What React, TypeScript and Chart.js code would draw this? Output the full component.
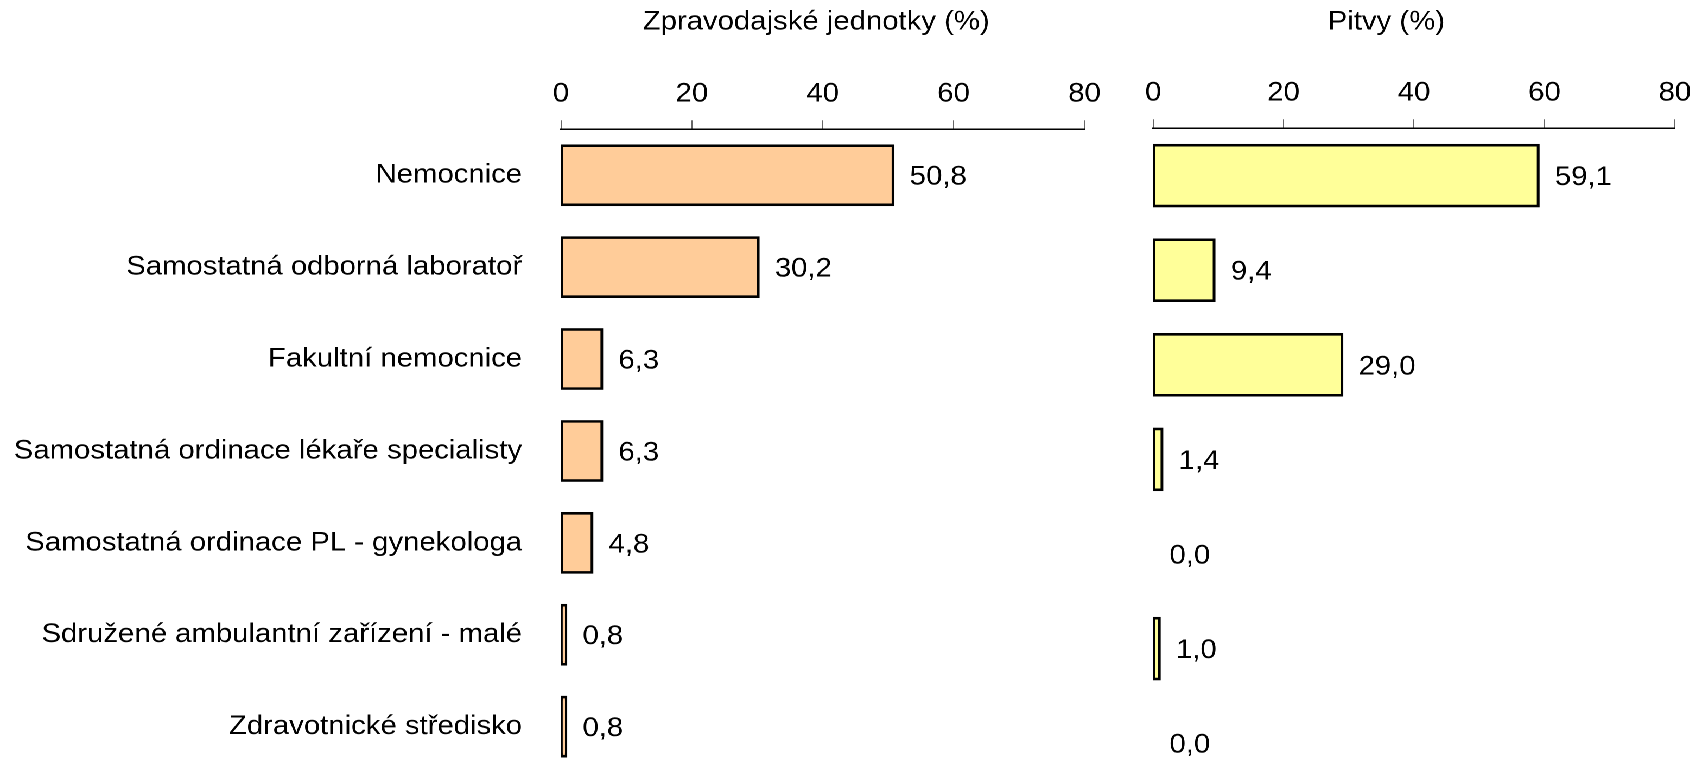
import React, { useEffect, useRef } from 'react';
import { Chart, registerables } from 'chart.js';

Chart.register(...registerables);

// ---------- data ----------
const categories = [
  'Nemocnice',
  'Samostatná odborná laboratoř',
  'Fakultní nemocnice',
  'Samostatná ordinace lékaře specialisty',
  'Samostatná ordinace PL - gynekologa',
  'Sdružené ambulantní zařízení - malé',
  'Zdravotnické středisko',
];
const zpravodajskeJednotky = [50.8, 30.2, 6.3, 6.3, 4.8, 0.8, 0.8];
const pitvy = [59.1, 9.4, 29.0, 1.4, 0.0, 1.0, 0.0];
const axisMin = 0;
const axisMax = 80;
const axisStep = 20;
const leftTitle = 'Zpravodajské jednotky (%)';
const rightTitle = 'Pitvy (%)';

// ---------- style / layout ----------
const FONT = "'Liberation Sans', Arial, Helvetica, sans-serif";
const FS = 27;
const SX = 1702 / 1568; // horizontal stretch of the reference

const fmt = (v: number) => v.toFixed(1).replace('.', ',');

const panelTitlePlugin = {
  id: 'panelTitle',
  afterDraw(chart: any, _args: any, opts: any) {
    const { ctx, chartArea } = chart;
    ctx.save();
    ctx.font = `${FS}px ${FONT}`;
    ctx.fillStyle = '#000';
    ctx.textAlign = 'center';
    ctx.textBaseline = 'alphabetic';
    ctx.fillText(opts.text, (chartArea.left + chartArea.right) / 2 + opts.offsetX, opts.y);
    ctx.restore();
  },
};

const valueLabelPlugin = {
  id: 'valueLabels',
  afterDatasetsDraw(chart: any) {
    const { ctx } = chart;
    const meta = chart.getDatasetMeta(0);
    const data = chart.data.datasets[0].data as number[];
    ctx.save();
    ctx.font = `${FS}px ${FONT}`;
    ctx.fillStyle = '#000';
    ctx.textAlign = 'left';
    ctx.textBaseline = 'middle';
    meta.data.forEach((el: any, i: number) => {
      ctx.fillText(fmt(data[i]), el.x + 15, el.y + 2);
    });
    ctx.restore();
  },
};

function makeConfig(
  values: number[],
  color: string,
  title: string,
  titleOffsetX: number,
  showLabels: boolean,
  yAxisWidth: number,
  xAxisHeight: number,
  padding: { left: number; right: number; top: number; bottom: number }
): any {
  return {
    type: 'bar',
    data: {
      labels: categories,
      datasets: [
        {
          data: values,
          backgroundColor: (c: any) => (c.raw === 0 ? 'rgba(0,0,0,0)' : color),
          borderColor: '#000',
          borderWidth: 2.6,
          borderSkipped: false,
          inflateAmount: (c: any) => (c.raw === 0 ? 0 : 1),
          categoryPercentage: 0.65,
          barPercentage: 1,
        },
      ],
    },
    options: {
      indexAxis: 'y',
      responsive: false,
      animation: false,
      devicePixelRatio: 2,
      events: [],
      layout: { padding },
      plugins: {
        legend: { display: false },
        tooltip: { enabled: false },
        title: { display: false },
        panelTitle: { text: title, offsetX: titleOffsetX, y: 29.5 },
      },
      scales: {
        x: {
          type: 'linear',
          position: 'top',
          min: axisMin,
          max: axisMax,
          ticks: {
            stepSize: axisStep,
            color: '#000',
            font: { size: FS, family: FONT },
            padding: 10,
            maxRotation: 0,
          },
          grid: {
            drawOnChartArea: false,
            drawTicks: true,
            tickLength: 9,
            color: '#666',
            lineWidth: 1,
          },
          border: { display: true, color: '#000', width: 1.5 },
          afterFit: (s: any) => {
            s.height = xAxisHeight;
          },
        },
        y: {
          type: 'category',
          display: showLabels,
          offset: true,
          grid: { display: false, drawTicks: false },
          border: { display: false },
          ticks: {
            color: '#000',
            font: { size: FS, family: FONT },
            padding: 35.8,
            autoSkip: false,
          },
          afterFit: (s: any) => {
            s.width = yAxisWidth;
            s.paddingTop = 0;
            s.paddingBottom = 0;
          },
        },
      },
    },
    plugins: [panelTitlePlugin, valueLabelPlugin],
  };
}

export default function App() {
  const leftRef = useRef<HTMLCanvasElement>(null);
  const rightRef = useRef<HTMLCanvasElement>(null);

  useEffect(() => {
    Chart.defaults.font.family = FONT;
    const left = new Chart(
      leftRef.current as HTMLCanvasElement,
      makeConfig(zpravodajskeJednotky, '#FFCC99', leftTitle, -6, true, 516.8, 129.3, {
        left: 0,
        right: 1040 - 999.1,
        top: 0,
        bottom: 790 - 772.6,
      })
    );
    const right = new Chart(
      rightRef.current as HTMLCanvasElement,
      makeConfig(pitvy, '#FFFF99', rightTitle, -25.5, false, 0, 128.3, {
        left: 1062.4 - 1040,
        right: 1568 - 1544.6,
        top: 0,
        bottom: 810 - 790.5,
      })
    );
    return () => {
      left.destroy();
      right.destroy();
    };
  }, []);

  return (
    <div
      style={{
        position: 'fixed',
        left: 0,
        top: 0,
        width: 1702,
        height: 759,
        overflow: 'hidden',
        background: '#fff',
      }}
    >
      <div
        style={{
          position: 'absolute',
          left: 0,
          top: 0,
          width: 1568,
          height: 810,
          transform: `scaleX(${SX})`,
          transformOrigin: '0 0',
        }}
      >
        <canvas
          ref={leftRef}
          width={1040}
          height={790}
          style={{ position: 'absolute', left: 0, top: 0, display: 'block' }}
        />
        <canvas
          ref={rightRef}
          width={528}
          height={810}
          style={{ position: 'absolute', left: 1040, top: 0, display: 'block' }}
        />
      </div>
    </div>
  );
}
